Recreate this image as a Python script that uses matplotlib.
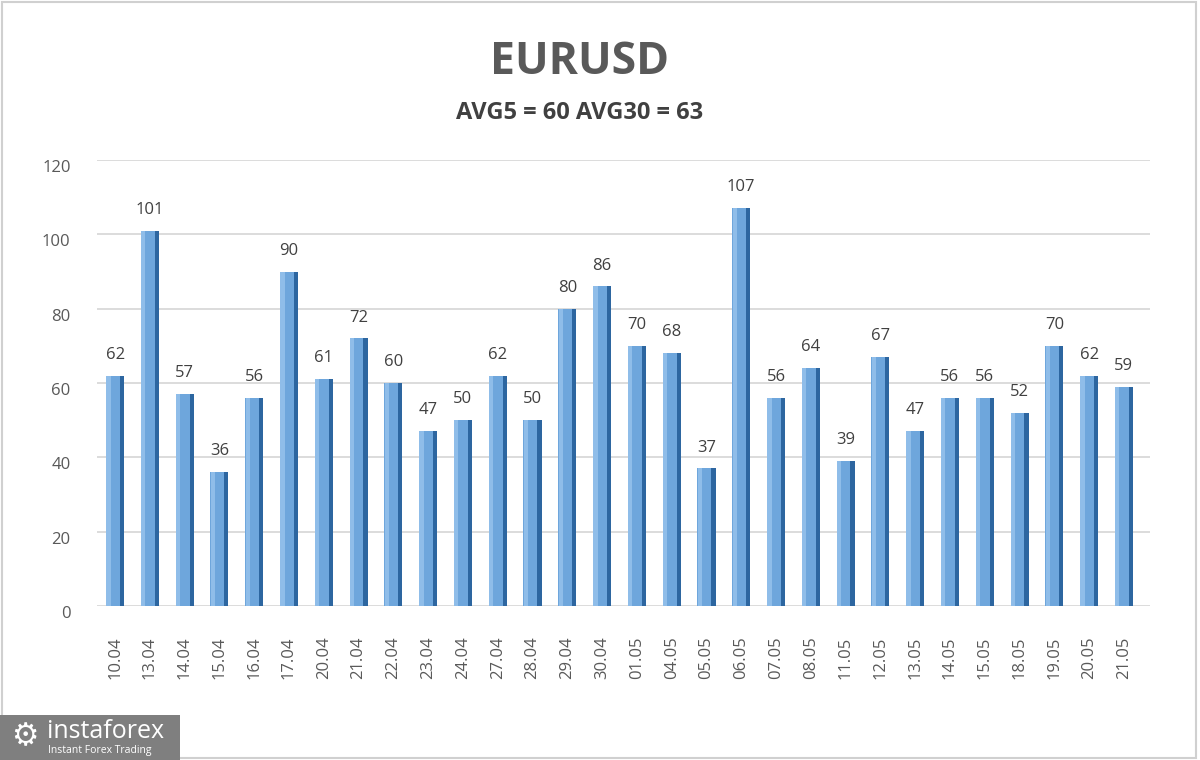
import matplotlib.pyplot as plt
from matplotlib.patches import Rectangle

dates = ['10.04', '13.04', '14.04', '15.04', '16.04', '17.04', '20.04', '21.04',
         '22.04', '23.04', '24.04', '27.04', '28.04', '29.04', '30.04', '01.05',
         '04.05', '05.05', '06.05', '07.05', '08.05', '11.05', '12.05', '13.05',
         '14.05', '15.05', '18.05', '19.05', '20.05', '21.05']
values = [62, 101, 57, 36, 56, 90, 61, 72, 60, 47, 50, 62, 50, 80, 86, 70,
          68, 37, 107, 56, 64, 39, 67, 47, 56, 56, 52, 70, 62, 59]
yticks = [0, 20, 40, 60, 80, 100, 120]
title = 'EURUSD'
subtitle = 'AVG5 = 60 AVG30 = 63'

plt.rcParams['font.family'] = ['Open Sans', 'DejaVu Sans']

fig = plt.figure(figsize=(12, 7.6), dpi=100)
ax = fig.add_axes([97 / 1200, 154 / 760, (1150 - 97) / 1200, 446 / 760])

x = list(range(len(values)))

# front face, highlight and dark side of each pseudo-3D column
ax.bar([i - 0.06 for i in x], values, width=0.40, color='#6ea6dc', zorder=3)
ax.bar([i - 0.19 for i in x], values, width=0.12, color='#8fbde9', zorder=3.5)
ax.bar([i + 0.20 for i in x], values, width=0.12, color='#2d66a0', zorder=3)

for i, v in zip(x, values):
    ax.annotate(str(v), (i, v), xytext=(0, 15), textcoords='offset points',
                ha='center', va='center', fontsize=12, color='#404040')

ax.set_ylim(0, 120)
ax.set_xlim(-0.52, 29.75)
ax.set_yticks(yticks)
ax.set_xticks(x)
ax.set_xticklabels(dates, rotation=90)
ax.tick_params(axis='y', length=0, pad=19, labelsize=12, labelcolor='#595959')
ax.tick_params(axis='x', length=0, pad=22, labelsize=12, labelcolor='#595959')
for lab in ax.get_yticklabels():
    lab.set_verticalalignment('top')
ax.grid(axis='y', color='#d9d9d9', linewidth=1.3, zorder=0)
for s in ax.spines.values():
    s.set_visible(False)

fig.text(580 / 1200, 1 - 62 / 760, title, ha='center', va='center', fontsize=32,
         fontweight='bold', color='#595959')
fig.text(580 / 1200, 1 - 113 / 760, subtitle, ha='center', va='center', fontsize=17,
         fontweight='bold', color='#404040')

# frame around the chart
fig.patches.append(Rectangle((0.002, 0.003), 0.995, 0.994, transform=fig.transFigure,
                             fill=False, edgecolor='#d0d0d0', linewidth=1.5))

# watermark
fig.patches.append(Rectangle((0, 0), 180 / 1200, 45 / 760, transform=fig.transFigure,
                             facecolor='#7f7f7f', edgecolor='none', zorder=5))
fig.text(47 / 1200, 1 - 731 / 760, 'instaforex', ha='left', va='center',
         fontsize=18, color='white', zorder=6)
fig.text(48 / 1200, 1 - 751 / 760, 'Instant Forex Trading', ha='left', va='center',
         fontsize=7.5, color='white', zorder=6)
fig.text(25 / 1200, 1 - 737 / 760, '\u2699', ha='center', va='center',
         fontsize=22, color='white', family='DejaVu Sans', zorder=6)

fig.savefig('out.png', dpi=100)
